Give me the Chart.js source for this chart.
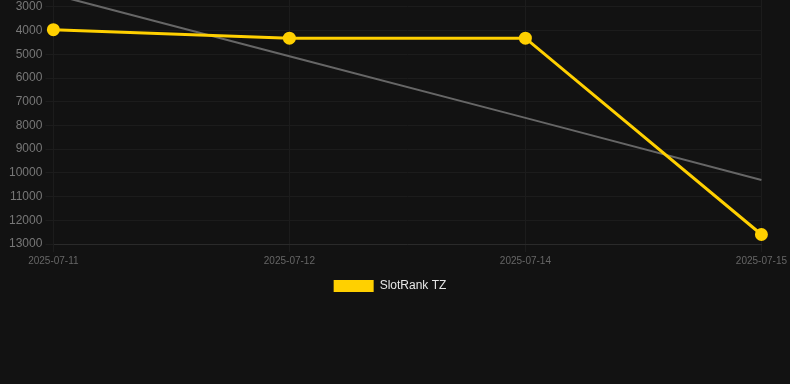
<!DOCTYPE html>
<html>
<head>
<meta charset="utf-8">
<script src="https://cdn.jsdelivr.net/npm/chart.js@4"></script>
<style>
  html, body { margin: 0; padding: 0; background: #121212; overflow: hidden; }
  #wrap { position: relative; width: 790px; height: 384px; overflow: hidden; }
  #box { position: absolute; left: 0; top: -27px; width: 790px; height: 329px; }
</style>
</head>
<body>
<div id="wrap"><div id="box"><canvas id="chart"></canvas></div></div>
<script>
// chart values
const fechas = ['2025-07-11', '2025-07-12', '2025-07-14', '2025-07-15'];
const posiciones = [3960, 4320, 4320, 12600];
const tendencia = [2480, 5080, 7680, 10300];
const serieNombre = 'SlotRank TZ';

const ctx = document.getElementById('chart');
const chart = new Chart(ctx, {
  type: 'line',
  data: {
    labels: fechas,
    datasets: [
      {
        label: serieNombre,
        data: posiciones,
        borderColor: '#FFD000',
        backgroundColor: '#FFD000',
        borderWidth: 3,
        pointRadius: 5,
        pointHoverRadius: 6,
        tension: 0
      },
      {
        label: 'trend',
        data: tendencia,
        borderColor: '#666666',
        borderWidth: 2,
        pointRadius: 0,
        fill: false
      }
    ]
  },
  options: {
    responsive: true,
    maintainAspectRatio: false,
    animation: false,
    layout: { padding: { left: 6, right: 16 } },
    scales: {
      x: {
        grid: { color: '#1c1c1c' },
        border: { color: '#2a2a2a' },
        ticks: { color: '#666', font: { size: 10 }, maxRotation: 0 }
      },
      y: {
        reverse: true,
        grid: { color: '#1c1c1c' },
        border: { color: '#1c1c1c' },
        ticks: { color: '#777', font: { size: 12 }, stepSize: 1000, callback: v => String(v) }
      }
    },
    plugins: {
      legend: {
        position: 'bottom',
        labels: {
          color: '#e6e6e6',
          font: { size: 12 },
          filter: item => item.text === serieNombre,
          generateLabels: c => Chart.defaults.plugins.legend.labels.generateLabels(c)
            .map(it => Object.assign(it, { lineWidth: 0 }))
        }
      },
      tooltip: { enabled: false }
    }
  }
});
</script>
</body>
</html>
